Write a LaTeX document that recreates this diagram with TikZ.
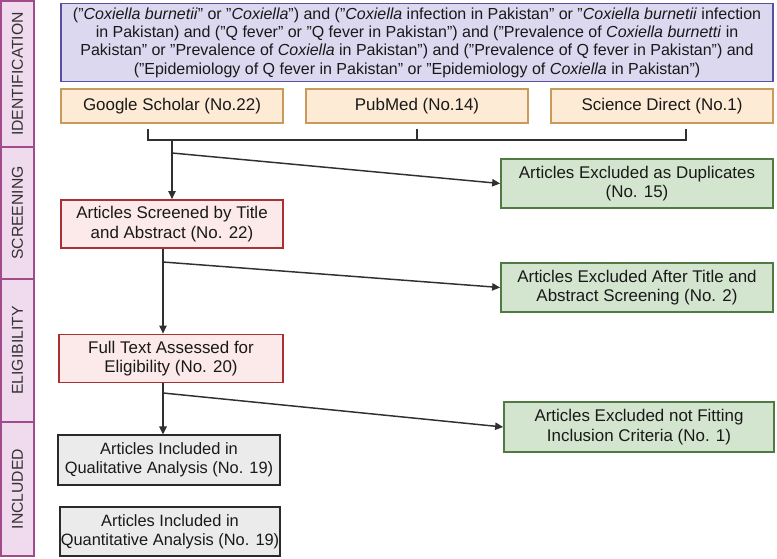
\documentclass[tikz,border=0pt]{standalone}
\usepackage{fontspec}
\setmainfont{Liberation Sans}
\usepackage{xcolor}
\usetikzlibrary{positioning, arrows.meta, calc}

\definecolor{stagefill}{HTML}{F0DAEE}
\definecolor{stageline}{HTML}{A24B8A}
\definecolor{queryfill}{HTML}{DCD8F0}
\definecolor{queryline}{HTML}{5A4E9E}
\definecolor{dbfill}{HTML}{FDEBD6}
\definecolor{dbline}{HTML}{C99B5A}
\definecolor{screenfill}{HTML}{FCE9E9}
\definecolor{screenline}{HTML}{A83232}
\definecolor{exclfill}{HTML}{D4E5CF}
\definecolor{exclline}{HTML}{4F7A41}
\definecolor{inclfill}{HTML}{EBEBEB}
\definecolor{inclline}{HTML}{2A2A2A}
\definecolor{wire}{HTML}{303030}

\begin{document}
\begin{tikzpicture}[
    x=0.75pt, y=-0.75pt,
    every node/.style={align=center, inner sep=1.5pt, text=black!90,
        font=\fontsize{12.7}{14.5}\selectfont},
    stagebar/.style={draw=stageline, fill=stagefill, line width=1.1pt, rotate=90,
        minimum height=24.75pt, text=black!80, font=\fontsize{11.8}{13}\selectfont},
    query/.style={draw=queryline, fill=queryfill, line width=1.3pt,
        minimum width=534pt, minimum height=58.5pt,
        font=\fontsize{12}{13.7}\selectfont},
    dbbox/.style={draw=dbline, fill=dbfill, line width=1.3pt,
        minimum width=166.5pt, minimum height=25.5pt},
    screenbox/.style={draw=screenline, fill=screenfill, line width=1.3pt,
        minimum width=166.5pt, minimum height=36pt},
    exclbox/.style={draw=exclline, fill=exclfill, line width=1.3pt,
        minimum width=204pt, minimum height=37pt},
    inclbox/.style={draw=inclline, fill=inclfill, line width=1.3pt,
        inner xsep=0.5pt, minimum width=166.5pt, minimum height=37pt,
        font=\fontsize{12.3}{14.5}\selectfont},
    link/.style={draw=wire, line width=1.1pt},
    flowarrow/.style={link, -{Triangle[length=6pt,width=5.5pt]}}
]
    \useasboundingbox (0,0) rectangle (777,558);

    % stage bars on the left
    \node[stagebar, minimum width=109.5pt] (ident) at (17.5,74) {IDENTIFICATION};
    \node[stagebar, minimum width=99pt] (screening) at (17.5,213) {SCREENING};
    \node[stagebar, minimum width=107.25pt] (elig) at (17.5,350.5) {ELIGIBILITY};
    \node[stagebar, minimum width=100.5pt] (incl) at (17.5,489) {INCLUDED};

    % search string and databases
    \node[query] (search) at (417,42.5) {%
        ("\textit{Coxiella burnetii}" or "\textit{Coxiella}") and ("\textit{Coxiella} infection in Pakistan" or "\textit{Coxiella burnetii} infection\\
        in Pakistan) and ("Q fever" or "Q fever in Pakistan") and ("Prevalence of \textit{Coxiella burnetti} in\\
        Pakistan" or "Prevalence of \textit{Coxiella} in Pakistan") and ("Prevalence of Q fever in Pakistan") and\\
        ("Epidemiology of Q fever in Pakistan" or "Epidemiology of \textit{Coxiella} in Pakistan")};
    \node[dbbox] (scholar) at (172,106) {Google Scholar (No.22)};
    \node[dbbox] (pubmed) at (417,106) {PubMed (No.14)};
    \node[dbbox] (scidir) at (662,106) {Science Direct (No.1)};

    % main column
    \node[screenbox] (screen) at (172,224) {Articles Screened by Title\\and Abstract (No. 22)};
    \node[screenbox, minimum width=168pt] (fulltext) at (171,358.5) {Full Text Assessed for\\Eligibility (No. 20)};
    \node[inclbox] (quali) at (169,460) {Articles Included in\\Qualitative Analysis (No. 19)};
    \node[inclbox, minimum width=163.5pt] (quanti) at (170,531.5) {Articles Included in\\Quantitative Analysis (No. 19)};

    % exclusions
    \node[exclbox] (dup) at (637,183.5) {Articles Excluded as Duplicates\\(No. 15)};
    \node[exclbox] (absexcl) at (637,287.5) {Articles Excluded After Title and\\Abstract Screening (No. 2)};
    \node[exclbox, minimum width=202.5pt] (critexcl) at (639,427) {Articles Excluded not Fitting\\Inclusion Criteria (No. 1)};

    % bracket joining the databases
    \coordinate (tickL) at (148,129);
    \coordinate (tickM) at (417,129);
    \coordinate (tickR) at (686,129);
    \coordinate (join) at (172,140);
    \draw[link] (tickL) |- (tickR |- join) -- (tickR);
    \draw[link] (tickM) -- (tickM |- join);

    % flow with side exits
    \coordinate (fork1) at (172,153);
    \coordinate (fork2) at (163,262);
    \coordinate (fork3) at (163,393);
    \draw[flowarrow] (join) -- (screen.north);
    \draw[flowarrow] (fork1) -- (dup.west);
    \draw[flowarrow] (fork2 |- screen.south) -- (fork2 |- fulltext.north);
    \draw[flowarrow] (fork2) -- (absexcl.west);
    \draw[flowarrow] (fork3 |- fulltext.south) -- (fork3 |- quali.north);
    \draw[flowarrow] (fork3) -- (critexcl.west);
\end{tikzpicture}
\end{document}
